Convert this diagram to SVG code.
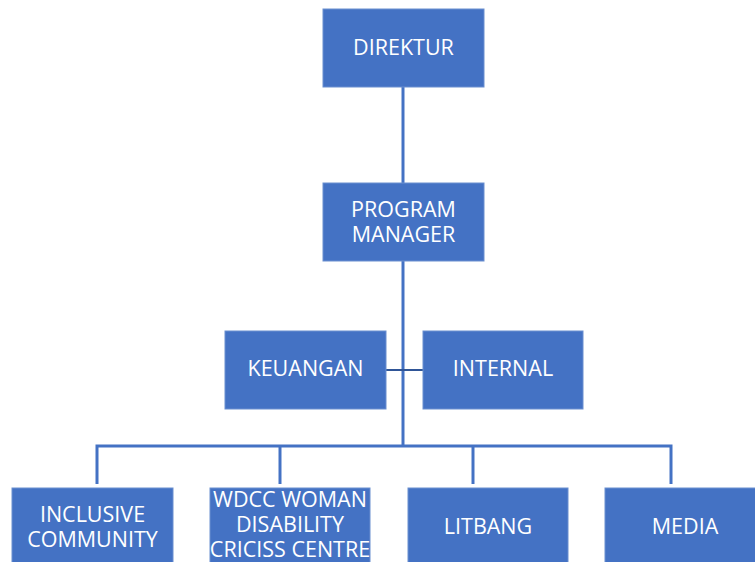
<svg xmlns="http://www.w3.org/2000/svg" width="755" height="562" viewBox="0 0 755 562">
<style>
.box{fill:#4472C4;stroke:#6A8FD0;stroke-width:1}
.t{font-family:"Open Sans","Liberation Sans",sans-serif;font-size:21.5px;fill:#FFFFFF;text-anchor:middle}
.c{fill:none;stroke:#4472C4;stroke-width:3}
.c2{fill:none;stroke:#2F5597;stroke-width:2}
</style>
<rect width="755" height="562" fill="#FFFFFF"/>
<g id="connectors">
<line class="c" x1="403" y1="87" x2="403" y2="183"/>
<line class="c" x1="403" y1="261" x2="403" y2="446"/>
<line class="c2" x1="386" y1="370" x2="423" y2="370"/>
<polyline class="c" points="97,484 97,446 671,446 671,484"/>
<line class="c" x1="280" y1="446" x2="280" y2="484"/>
<line class="c" x1="473" y1="446" x2="473" y2="484"/>
</g>
<g id="direktur">
<rect class="box" x="323" y="9" width="161" height="78"/>
<text class="t" x="403.5" y="55">DIREKTUR</text>
</g>
<g id="program-manager">
<rect class="box" x="323" y="183" width="161" height="78"/>
<text class="t" x="403.5" y="217">PROGRAM</text>
<text class="t" x="403.5" y="242">MANAGER</text>
</g>
<g id="keuangan">
<rect class="box" x="225" y="331" width="161" height="78"/>
<text class="t" x="305.5" y="376">KEUANGAN</text>
</g>
<g id="internal">
<rect class="box" x="423" y="331" width="160" height="78"/>
<text class="t" x="503" y="376">INTERNAL</text>
</g>
<g id="inclusive-community">
<rect class="box" x="12" y="488" width="161" height="80"/>
<text class="t" x="92.5" y="522">INCLUSIVE</text>
<text class="t" x="92.5" y="547">COMMUNITY</text>
</g>
<g id="wdcc">
<rect class="box" x="210" y="488" width="160" height="80"/>
<text class="t" x="290" y="507">WDCC WOMAN</text>
<text class="t" x="290" y="532">DISABILITY</text>
<text class="t" x="290" y="557">CRICISS CENTRE</text>
</g>
<g id="litbang">
<rect class="box" x="408" y="488" width="160" height="80"/>
<text class="t" x="488" y="534">LITBANG</text>
</g>
<g id="media">
<rect class="box" x="605" y="488" width="160" height="80"/>
<text class="t" x="685" y="534">MEDIA</text>
</g>
</svg>
